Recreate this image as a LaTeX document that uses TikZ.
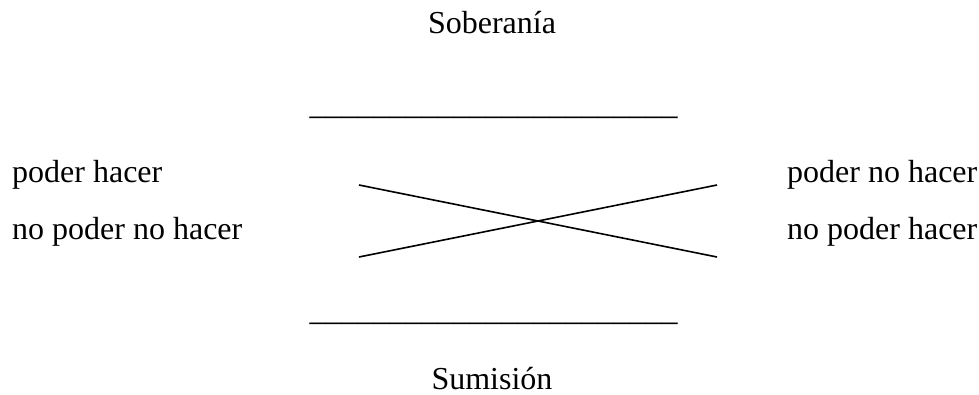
\documentclass[tikz,border=0pt]{standalone}
\usepackage{fontspec}
\setmainfont{Liberation Serif}
\begin{document}
\begin{tikzpicture}[x=1pt,y=-1pt,
  lbl/.style={inner sep=0pt,font=\fontsize{32}{38}\selectfont},
  cross/.style={line width=1.6pt}]
\useasboundingbox (0,0) rectangle (979,394);
\node[lbl,anchor=base] (sob) at (492,33) {Soberanía};
\node[lbl,anchor=base] (top) at (493.5,114) {\_\_\_\_\_\_\_\_\_\_\_\_\_\_\_\_\_\_\_\_\_\_\_};
\node[lbl,anchor=base west] (ph) at (12,182) {poder hacer};
\node[lbl,anchor=base west] (npnh) at (12,239) {no poder no hacer};
\node[lbl,anchor=base west] (pnh) at (787,182) {poder no hacer};
\node[lbl,anchor=base west] (nph) at (787,239) {no poder hacer};
\node[lbl,anchor=base] (bot) at (493.5,320) {\_\_\_\_\_\_\_\_\_\_\_\_\_\_\_\_\_\_\_\_\_\_\_};
\node[lbl,anchor=base] (sum) at (492,389) {Sumisión};
\coordinate (a1) at (359,185);
\coordinate (a2) at (717,257);
\coordinate (b1) at (359,257);
\coordinate (b2) at (717,185);
\draw[cross] (a1) -- (a2);
\draw[cross] (b1) -- (b2);
\end{tikzpicture}
\end{document}
